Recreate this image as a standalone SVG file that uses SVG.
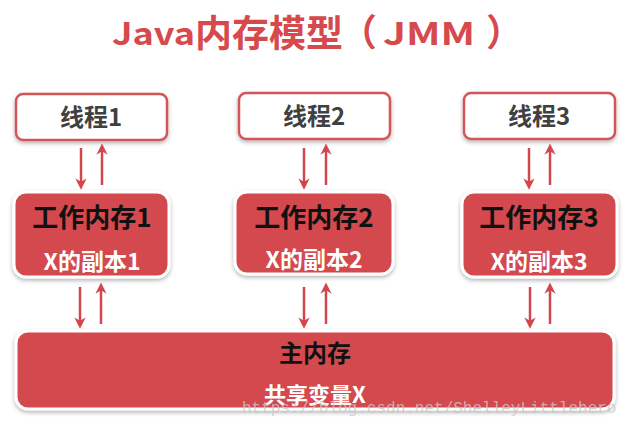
<svg xmlns="http://www.w3.org/2000/svg" width="643" height="429" viewBox="0 0 643 429">
<defs>
<filter id="sh" x="-10%" y="-20%" width="120%" height="150%">
<feDropShadow dx="0" dy="2" stdDeviation="2" flood-color="#000" flood-opacity="0.3"/>
</filter>
<marker id="ah" viewBox="0 0 10 10" refX="5" refY="5" markerWidth="4.5" markerHeight="4.5" orient="auto-start-reverse" markerUnits="strokeWidth">
<path d="M0,0 L10,5 L0,10 L3,5 z" fill="#d1474b"/>
</marker>
<style>
.cjk{font-family:"Noto Sans CJK SC","Noto Sans",sans-serif;font-weight:bold;text-anchor:middle}
.thr{fill:#fff;stroke:#d3555a;stroke-width:2.5}
.red{fill:#d4494d;stroke:#fff;stroke-width:3}
.t1{font-size:24px;fill:#404040}
.t2{font-size:26px;fill:#111}
.t3{font-size:23px;fill:#fff}
.ar{stroke:#d1474b;stroke-width:2.5;fill:none;marker-end:url(#ah)}
</style>
</defs>
<rect width="643" height="429" fill="#fff"/>
<text y="45" font-family="'Noto Sans CJK SC','Noto Sans',sans-serif" font-weight="bold" font-size="37" fill="#d6494d"><tspan x="112" font-size="31" textLength="83" lengthAdjust="spacingAndGlyphs">Java</tspan><tspan x="195" y="47">内存模型</tspan><tspan x="340" y="46">（</tspan><tspan x="383" y="45" font-size="31" textLength="92" lengthAdjust="spacingAndGlyphs">JMM</tspan><tspan x="486" y="46">）</tspan></text>

<g id="thread1"><rect class="thr" x="16" y="94" width="151" height="46" rx="7" filter="url(#sh)"/><text class="cjk t1" x="91" y="126">线程1</text></g>
<g id="thread2"><rect class="thr" x="239" y="93" width="151" height="46" rx="7" filter="url(#sh)"/><text class="cjk t1" x="314" y="125">线程2</text></g>
<g id="thread3"><rect class="thr" x="464" y="93" width="151" height="46" rx="7" filter="url(#sh)"/><text class="cjk t1" x="539" y="125">线程3</text></g>

<g id="work1"><rect class="red" x="14" y="192" width="155" height="85" rx="12" filter="url(#sh)"/><text class="cjk t2" x="92" y="227">工作内存1</text><text class="cjk t3" x="92" y="270">X的副本1</text></g>
<g id="work2"><rect class="red" x="235" y="192" width="158" height="82" rx="12" filter="url(#sh)"/><text class="cjk t2" x="314" y="227">工作内存2</text><text class="cjk t3" x="314" y="268">X的副本2</text></g>
<g id="work3"><rect class="red" x="462" y="192" width="155" height="85" rx="12" filter="url(#sh)"/><text class="cjk t2" x="539" y="227">工作内存3</text><text class="cjk t3" x="539" y="270">X的副本3</text></g>

<g id="main"><rect class="red" x="16" y="331" width="598" height="78" rx="12" filter="url(#sh)"/><text class="cjk" x="315" y="362" font-size="24" fill="#111">主内存</text><text class="cjk" x="315" y="403" font-size="22" fill="#fff">共享变量X</text></g>

<g id="connectors">
<line class="ar" x1="81" y1="148" x2="81" y2="184"/>
<line class="ar" x1="102" y1="185" x2="102" y2="149"/>
<line class="ar" x1="304" y1="148" x2="304" y2="184"/>
<line class="ar" x1="326" y1="185" x2="326" y2="149"/>
<line class="ar" x1="529" y1="148" x2="529" y2="184"/>
<line class="ar" x1="550" y1="185" x2="550" y2="149"/>
<line class="ar" x1="80" y1="287" x2="80" y2="323"/>
<line class="ar" x1="101" y1="324" x2="101" y2="288"/>
<line class="ar" x1="304" y1="287" x2="304" y2="323"/>
<line class="ar" x1="326" y1="324" x2="326" y2="288"/>
<line class="ar" x1="530" y1="287" x2="530" y2="323"/>
<line class="ar" x1="550" y1="324" x2="550" y2="288"/>
</g>
<text x="242" y="413" font-family="'Liberation Mono',monospace" font-size="16" fill="#c8c8c8" fill-opacity="0.8">https://blog.csdn.net/ShelleyLittlehero</text>
</svg>
